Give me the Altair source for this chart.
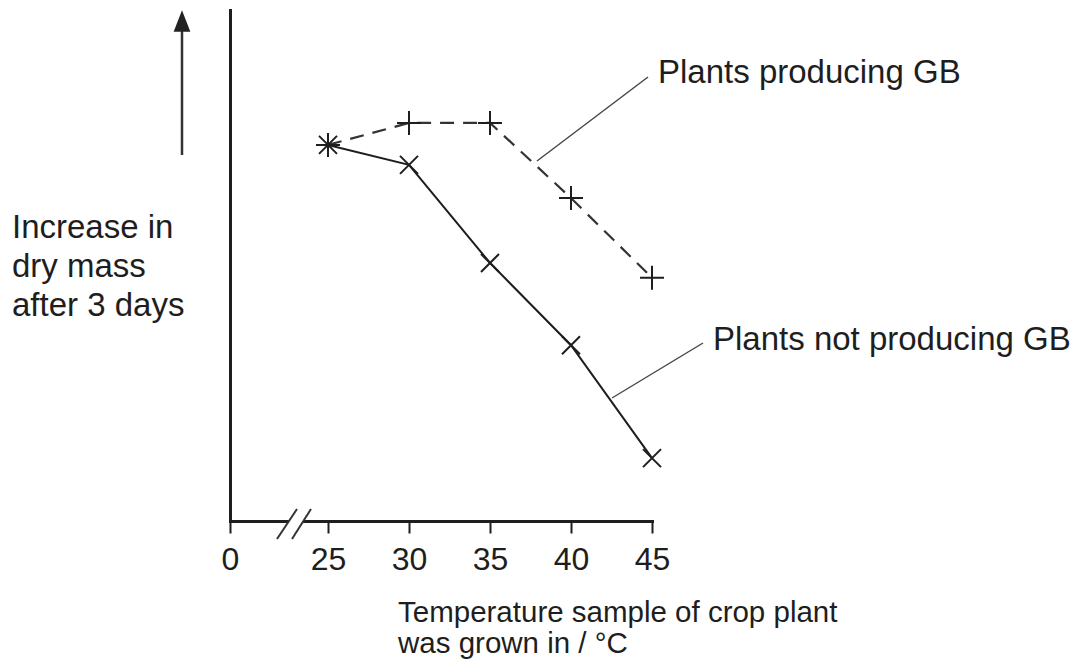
import altair as alt
import pandas as pd

# ---- data ----
temperatures = [25, 30, 35, 40, 45]
gb_increase = [73.6, 77.9, 77.9, 63.2, 47.6]        # plants producing GB (dashed, +)
no_gb_increase = [73.6, 69.7, 50.5, 34.4, 12.3]     # plants not producing GB (solid, x)
x_tick_values = [0, 25, 30, 35, 40, 45]
series_names = ["Plants producing GB", "Plants not producing GB"]
y_label_lines = ["Increase in", "dry mass", "after 3 days"]
x_title_lines = ["Temperature sample of crop plant", "was grown in / °C"]

df = pd.DataFrame({
    "temp": temperatures + temperatures,
    "increase": gb_increase + no_gb_increase,
    "series": [series_names[0]] * len(temperatures) + [series_names[1]] * len(temperatures),
})

W, H = 422, 511
FONT = "Liberation Sans"
INK = "#1e1e1e"

# broken x axis: 0 .. 25 compressed, 25 .. 45 linear
x_scale = alt.Scale(domain=[0, 25, 45], range=[0, 98, W], nice=False, zero=False)
y_scale = alt.Scale(domain=[0, 100], nice=False, zero=False)

x_enc = alt.X(
    "temp:Q", scale=x_scale,
    axis=alt.Axis(values=x_tick_values, title=None, grid=False, format="d",
                  tickSize=12, tickWidth=2, tickColor=INK,
                  domainWidth=3, domainColor=INK, domainCap="square",
                  labelFontSize=32, labelFont=FONT, labelColor=INK,
                  labelPadding=11, labelFlush=False, labelOverlap=False),
)
y_enc = alt.Y(
    "increase:Q", scale=y_scale,
    axis=alt.Axis(title=None, labels=False, ticks=False, grid=False,
                  domainWidth=3, domainColor=INK, domainCap="square"),
)

base = alt.Chart(df)
gb = base.transform_filter(alt.datum.series == series_names[0])
nogb = base.transform_filter(alt.datum.series == series_names[1])

gb_line = gb.mark_line(color="#333333", strokeWidth=2.2, strokeDash=[14, 9]).encode(x=x_enc, y=y_enc)
nogb_line = nogb.mark_line(color=INK, strokeWidth=2).encode(x=x_enc, y=y_enc)

PLUS = "M-1,0L1,0M0,-1L0,1"
CROSS = "M-1,-1L1,1M-1,1L1,-1"
gb_pts = gb.mark_point(shape=PLUS, size=576, filled=False, stroke=INK,
                       strokeWidth=2, opacity=1).encode(x=x_enc, y=y_enc)
nogb_pts = nogb.mark_point(shape=CROSS, size=324, filled=False, stroke=INK,
                           strokeWidth=2, opacity=1).encode(x=x_enc, y=y_enc)

one = pd.DataFrame({"k": [0]})
deco = alt.Chart(one)

# axis break
gap = deco.mark_rect(color="white").encode(
    x=alt.value(59), x2=alt.value(73), y=alt.value(506), y2=alt.value(516))
slash1 = deco.mark_rule(color="#333333", strokeWidth=2).encode(
    x=alt.value(47), y=alt.value(529), x2=alt.value(67), y2=alt.value(499))
slash2 = deco.mark_rule(color="#333333", strokeWidth=2).encode(
    x=alt.value(62), y=alt.value(529), x2=alt.value(81), y2=alt.value(499))

# upward arrow next to y axis
arrow_shaft = deco.mark_rule(color="#333333", strokeWidth=2.5).encode(
    x=alt.value(-48), y=alt.value(18), y2=alt.value(145))
arrow_head = deco.mark_point(shape="M0,-1L0.77,1L-0.77,1Z", size=470, filled=True,
                             color="#222222", opacity=1).encode(
    x=alt.value(-48), y=alt.value(11))

# leader lines
lead_gb = deco.mark_rule(color="#444444", strokeWidth=1.4).encode(
    x=alt.value(307), y=alt.value(151), x2=alt.value(418), y2=alt.value(67))
lead_nogb = deco.mark_rule(color="#444444", strokeWidth=1.4).encode(
    x=alt.value(382), y=alt.value(388), x2=alt.value(473), y2=alt.value(333))

lab_gb = deco.mark_text(text=series_names[0], font=FONT, fontSize=33, color=INK,
                        align="left", baseline="alphabetic").encode(
    x=alt.value(428), y=alt.value(73))
lab_nogb = deco.mark_text(text=series_names[1], font=FONT, fontSize=33, color=INK,
                          align="left", baseline="alphabetic").encode(
    x=alt.value(483), y=alt.value(340))

y_title = deco.mark_text(text=y_label_lines, font=FONT, fontSize=33, lineHeight=39,
                         color=INK, align="left", baseline="alphabetic").encode(
    x=alt.value(-218), y=alt.value(228))
x_title = deco.mark_text(text=x_title_lines, font=FONT, fontSize=29.5, lineHeight=31,
                         color=INK, align="left", baseline="alphabetic").encode(
    x=alt.value(168), y=alt.value(612))

chart = alt.layer(
    gb_line, nogb_line, gb_pts, nogb_pts,
    gap, slash1, slash2, arrow_shaft, arrow_head,
    lead_gb, lead_nogb, lab_gb, lab_nogb, y_title, x_title,
).properties(
    width=W, height=H,
    autosize=alt.AutoSizeParams(type="none"),
    padding={"left": 222, "top": 2, "right": 423, "bottom": 139},
    background="white",
).configure_view(stroke=None)

chart.save("out.html", embed_options={"renderer": "svg", "actions": False})
